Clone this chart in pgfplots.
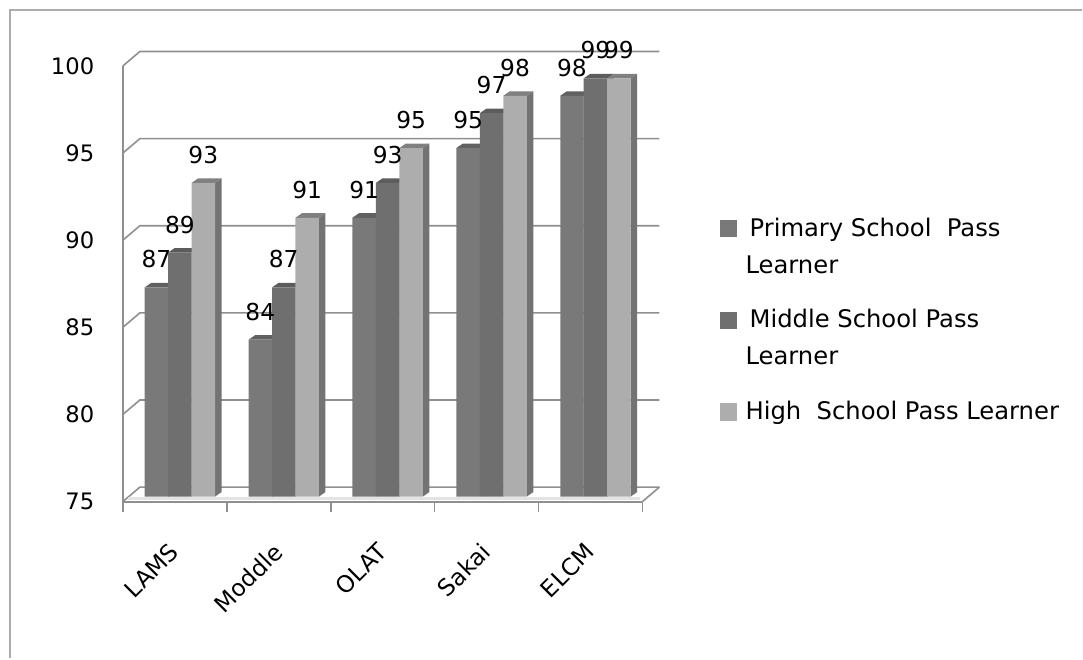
\documentclass[border=0pt]{standalone}
\usepackage{pgfplots}
\usepackage{pgfplotstable}
\usepackage{fontspec}
\setmainfont{DejaVu Sans}
\pgfplotsset{compat=1.18}

% Pass rates per platform; x is the bar centre in category units
\pgfplotstableread{
x     v
0.322 87
1.322 84
2.322 91
3.322 95
4.322 98
}\primarytab
\pgfplotstableread{
x     v
0.548 89
1.548 87
2.548 93
3.548 97
4.548 99
}\middletab
\pgfplotstableread{
x     v
0.774 93
1.774 91
2.774 95
3.774 98
4.774 99
}\hightab

\definecolor{frontA}{gray}{0.475}
\definecolor{frontB}{gray}{0.435}
\definecolor{frontC}{gray}{0.68}
\definecolor{sideA}{gray}{0.40}
\definecolor{sideB}{gray}{0.38}
\definecolor{sideC}{gray}{0.45}
\definecolor{capA}{gray}{0.38}
\definecolor{capB}{gray}{0.36}
\definecolor{capC}{gray}{0.50}
\definecolor{axisgrey}{gray}{0.56}

% Extrusion of a bar: half width, depth in x and y, lift of the front plane
\def\hw{0.113}
\def\dx{0.0625}
\def\dy{0.26}
\def\lift{0.287}

% Right side and top cap for every bar of one series
\newcommand{\depthfaces}[3]{%
  \pgfplotsinvokeforeach{0,...,4}{%
    \pgfplotstablegetelem{##1}{x}\of#1\let\bx\pgfplotsretval
    \pgfplotstablegetelem{##1}{v}\of#1\let\bv\pgfplotsretval
    \pgfmathsetmacro\xl{\bx-\hw}%
    \pgfmathsetmacro\xr{\bx+\hw}%
    \pgfmathsetmacro\xlb{\bx-\hw+\dx}%
    \pgfmathsetmacro\xrb{\bx+\hw+\dx}%
    \pgfmathsetmacro\yb{75+\lift}%
    \pgfmathsetmacro\ybb{75+\lift+\dy}%
    \pgfmathsetmacro\yt{\bv+\lift}%
    \pgfmathsetmacro\ytb{\bv+\lift+\dy}%
    \edef\faces{%
      \noexpand\addplot[fill=#2,draw=none,forget plot] coordinates
        {(\xr,\yb) (\xrb,\ybb) (\xrb,\ytb) (\xr,\yt)} -- cycle;
      \noexpand\addplot[fill=#3,draw=none,forget plot] coordinates
        {(\xl,\yt) (\xr,\yt) (\xrb,\ytb) (\xlb,\ytb)} -- cycle;
    }\faces
  }%
}

% Legend text, top-aligned so that the swatch sits on its first line
\newcommand{\entry}[1]{\parbox[t]{250pt}{\raggedright #1}}

\begin{document}
\begin{tikzpicture}[x=0.75pt,y=0.75pt]
  % outer chart frame, left and top edges
  \path (0,0) rectangle (1083,659);
  \draw[gray!65,line width=1.4pt] (10,0) -- (10,649) -- (1083,649);

  \begin{axis}[
    at={(92.25pt,117.75pt)}, anchor=south west,
    scale only axis, width=390pt, height=327pt,
    xmin=0, xmax=5, ymin=75, ymax=100,
    clip=false,
    axis x line*=bottom, axis y line*=left,
    axis line style={axisgrey,line width=1.5pt},
    tick align=outside,
    xtick={0.5,1.5,2.5,3.5,4.5},
    xticklabels={LAMS,Moddle,OLAT,Sakai,ELCM},
    minor xtick={0,1,2,3,4,5},
    major tick length=0pt,
    minor tick length=8pt,
    every minor tick/.style={axisgrey,line width=1.2pt},
    ytick={75,80,85,90,95,100},
    every y tick/.style={axisgrey,line width=1.2pt},
    yticklabel style={font=\fontsize{17pt}{18pt}\selectfont,xshift=-18pt},
    xticklabel style={font=\fontsize{17.5pt}{18pt}\selectfont,xshift=-5pt,yshift=-25pt,rotate=45,anchor=north east},
    /pgf/number format/assume math mode=true,
    legend style={
      at={(1.148,0.658)},anchor=north west,
      draw=none,fill=none,inner sep=0pt,
      font=\fontsize{18.2pt}{27.75pt}\selectfont,
      row sep=49.5pt,
    },
    legend image code/.code={\fill[#1] (0pt,-10.75pt) rectangle (13pt,2.25pt);},
    legend cell align=left,
  ]
    % back wall gridlines with the short diagonals of the side wall
    \pgfplotsinvokeforeach{75,80,85,90,95,100}{
      \addplot[axisgrey,line width=1.2pt,forget plot]
        coordinates {(0,#1) (0.1635,#1+0.83) (5.1635,#1+0.83)};
    }
    \addplot[axisgrey,line width=1.2pt,forget plot]
      coordinates {(5,75) (5.1635,75.83)};
    % pale edge of the floor in front of the bars
    \addplot[gray!22,line width=2.2pt,forget plot]
      coordinates {(0.05,75.17) (4.98,75.17)};

    \depthfaces{\primarytab}{sideA}{capA}
    \addplot[ybar,bar width=0.226,fill=frontA,draw=none,yshift=3.75pt,
      nodes near coords,
      every node near coord/.style={font=\fontsize{17.5pt}{18pt}\selectfont,anchor=center,yshift=21pt,text=black},
    ] table[x=x,y=v] {\primarytab};
    \addlegendentry{\entry{\hspace*{7.5pt}Primary School~ Pass\\\hspace*{4.5pt}Learner}}
    \depthfaces{\middletab}{sideB}{capB}
    \addplot[ybar,bar width=0.226,fill=frontB,draw=none,yshift=3.75pt,
      nodes near coords,
      every node near coord/.style={font=\fontsize{17.5pt}{18pt}\selectfont,anchor=center,yshift=21pt,text=black},
    ] table[x=x,y=v] {\middletab};
    \addlegendentry{\entry{\hspace*{7.5pt}Middle School Pass\\\hspace*{4.5pt}Learner}}
    \depthfaces{\hightab}{sideC}{capC}
    \addplot[ybar,bar width=0.226,fill=frontC,draw=none,yshift=3.75pt,
      nodes near coords,
      every node near coord/.style={font=\fontsize{17.5pt}{18pt}\selectfont,anchor=center,yshift=21pt,text=black},
    ] table[x=x,y=v] {\hightab};
    \addlegendentry{\entry{\hspace*{4.5pt}High~ School Pass Learner}}
  \end{axis}
\end{tikzpicture}
\end{document}
